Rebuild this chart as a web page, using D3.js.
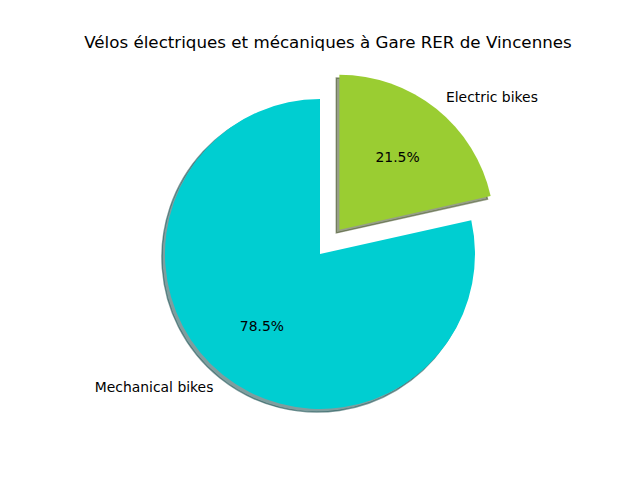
<!DOCTYPE html>
<html>
<head>
<meta charset="utf-8">
<script src="https://cdn.jsdelivr.net/npm/d3@7"></script>
<style>
    body { margin: 0; background: #fff; }
    text { font-family: "DejaVu Sans", sans-serif; }
</style>
</head>
<body>
<div id="chart"></div>
<script>
// Data
const labels = ["Electric bikes", "Mechanical bikes"];
const shares = [21.5, 78.5];
const colors = ["#9acd32", "#00ced1"];
const explode = [0.2, 0];

const width = 640, height = 480;
const cx = 320, cy = 254, r = 155;

const svg = d3.select("#chart")
    .append("svg")
    .attr("width", width)
    .attr("height", height);

svg.append("text")
    .attr("x", 328)
    .attr("y", 48)
    .attr("text-anchor", "middle")
    .style("font-size", "16.7px")
    .text("Vélos électriques et mécaniques à Gare RER de Vincennes");

const data = labels.map((l, i) => ({ label: l, value: shares[i], color: colors[i], explode: explode[i] }));

const pie = d3.pie().value(d => d.value).sort(null);
const arcs = pie(data);
const arc = d3.arc().innerRadius(0).outerRadius(r);

// mid angle direction (d3 angle: 0 at top, clockwise)
function dir(a) {
    const m = (a.startAngle + a.endAngle) / 2;
    return [Math.sin(m), -Math.cos(m)];
}

const g = svg.append("g").attr("transform", `translate(${cx},${cy})`);

// Shadows
const shadowOff = 0.02 * r;
g.selectAll(".shadow")
    .data(arcs)
    .enter()
    .append("path")
    .attr("class", "shadow")
    .attr("d", arc)
    .attr("transform", d => {
        const [dx, dy] = dir(d);
        const e = d.data.explode * r;
        return `translate(${dx * e - shadowOff},${dy * e + shadowOff})`;
    })
    .each(function(d) {
        const c = d3.rgb(d.data.color);
        const s = d3.rgb(c.r * 0.3, c.g * 0.3, c.b * 0.3);
        d3.select(this)
            .attr("fill", s)
            .attr("fill-opacity", 0.5)
            .attr("stroke", s)
            .attr("stroke-opacity", 0.5)
            .attr("stroke-width", 1.4);
    });

// Slices
g.selectAll(".slice")
    .data(arcs)
    .enter()
    .append("path")
    .attr("class", "slice")
    .attr("d", arc)
    .attr("transform", d => {
        const [dx, dy] = dir(d);
        const e = d.data.explode * r;
        return `translate(${dx * e},${dy * e})`;
    })
    .attr("fill", d => d.data.color);

// Labels
g.selectAll(".label")
    .data(arcs)
    .enter()
    .append("text")
    .attr("class", "label")
    .attr("x", d => { const [dx] = dir(d); return dx * (d.data.explode + 1.1) * r; })
    .attr("y", d => { const [, dy] = dir(d); return dy * (d.data.explode + 1.1) * r; })
    .attr("dy", "0.35em")
    .attr("text-anchor", d => dir(d)[0] > 0 ? "start" : "end")
    .style("font-size", "13.9px")
    .text(d => d.data.label);

// Percentages
g.selectAll(".pct")
    .data(arcs)
    .enter()
    .append("text")
    .attr("class", "pct")
    .attr("x", d => { const [dx] = dir(d); return dx * (d.data.explode + 0.6) * r; })
    .attr("y", d => { const [, dy] = dir(d); return dy * (d.data.explode + 0.6) * r; })
    .attr("dy", "0.35em")
    .attr("text-anchor", "middle")
    .style("font-size", "13.9px")
    .text(d => d3.format(".1f")(d.data.value) + "%");
</script>
</body>
</html>
